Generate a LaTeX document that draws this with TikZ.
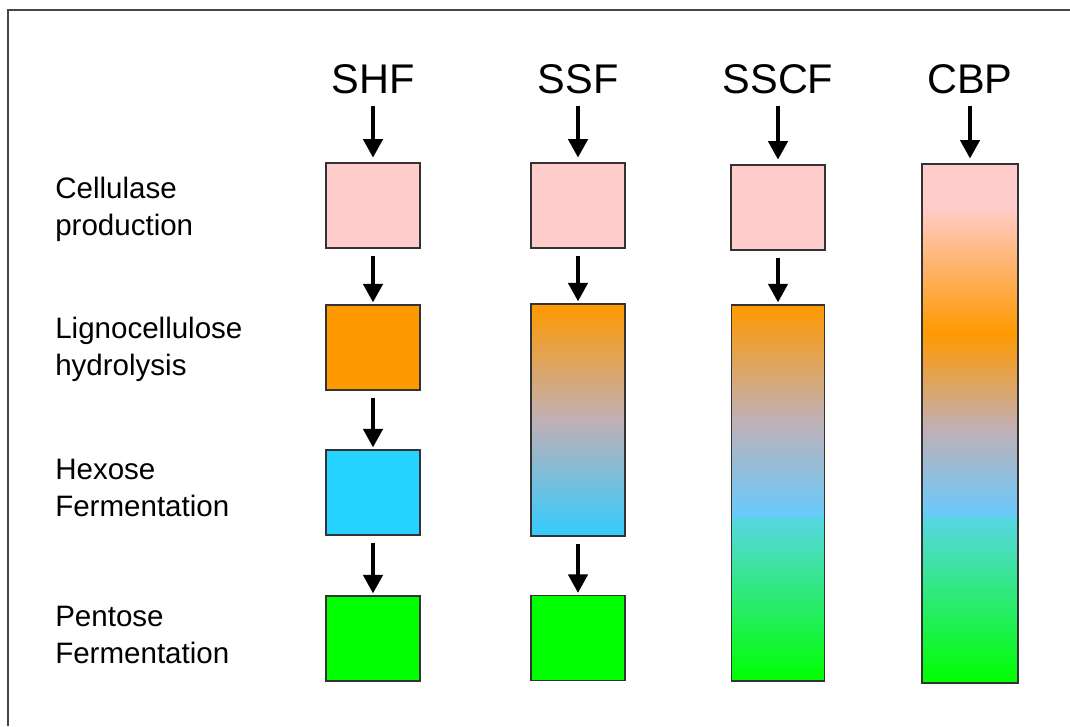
\documentclass[tikz,border=0pt]{standalone}
\usepackage{fontspec}
\setmainfont{Liberation Sans}
\usepackage{tikz}
\usetikzlibrary{arrows.meta, positioning}
\usepackage{xcolor}
\definecolor{cellpink}{RGB}{255,204,204}
\definecolor{hydorange}{RGB}{255,153,0}
\definecolor{hexblue}{RGB}{38,210,255}
\definecolor{pentgreen}{RGB}{0,255,0}
\definecolor{midgrey}{RGB}{192,176,182}
\definecolor{skyblue}{RGB}{51,204,255}
\definecolor{lightblue}{RGB}{105,202,252}
\definecolor{aquacyan}{RGB}{88,214,228}
\definecolor{framegrey}{RGB}{70,70,70}

% gradients: 25bp = bottom of the box, 75bp = top
\pgfdeclareverticalshading{ssfshade}{100bp}{color(0bp)=(skyblue); color(25bp)=(skyblue);
  color(50bp)=(midgrey); color(75bp)=(hydorange); color(100bp)=(hydorange)}
\pgfdeclareverticalshading{sscfshade}{100bp}{color(0bp)=(pentgreen); color(25bp)=(pentgreen);
  color(46.8bp)=(aquacyan); color(47.1bp)=(lightblue); color(59.7bp)=(midgrey);
  color(75bp)=(hydorange); color(100bp)=(hydorange)}
\pgfdeclareverticalshading{cbpshade}{100bp}{color(0bp)=(pentgreen); color(25bp)=(pentgreen);
  color(41bp)=(aquacyan); color(41.2bp)=(lightblue); color(49.4bp)=(midgrey);
  color(58.7bp)=(hydorange); color(71bp)=(cellpink); color(100bp)=(cellpink)}

\begin{document}
\begin{tikzpicture}[
    x=0.025cm, y=-0.025cm,
    stage/.style={rectangle, draw=black!80, line width=0.9pt, inner sep=0pt,
                  minimum width=2.35cm, minimum height=2.125cm},
    title/.style={anchor=base, inner sep=0pt, font=\fontsize{29.5}{32}\selectfont},
    lbl/.style={anchor=west, align=left, inner sep=0pt, font=\fontsize{21}{26.3}\selectfont},
    arr/.style={-{Triangle[length=0.46cm, width=0.48cm]}, line width=2.6pt},
    toparr/.style={arr, shorten <=0.3cm, shorten >=0.12cm},
    midarr/.style={arr, shorten <=0.175cm, shorten >=0.05cm},
]
    \useasboundingbox (0,0) rectangle (1070,726);
    \draw[framegrey, line width=1.4pt] (8,726) -- (8,10) -- (1075,10);

    % process names
    \node[title] (shf) at (373,93) {SHF};
    \node[title] (ssf) at (578,93) {SSF};
    \node[title] (sscf) at (778,93) {SSCF};
    \node[title] (cbp) at (970,93) {CBP};

    % steps
    \node[lbl] (cellulase) at (55,209) {Cellulase\\production};
    \node[lbl] (hydrolysis) at (55,349) {Lignocellulose\\hydrolysis};
    \node[lbl] (hexose) at (55,488) {Hexose\\Fermentation};
    \node[lbl] (pentose) at (55,635) {Pentose\\Fermentation};

    % SHF
    \node[stage, fill=cellpink] (shfA) at (373,205.5) {};
    \node[stage, fill=hydorange] (shfB) at (373,347.5) {};
    \node[stage, fill=hexblue] (shfC) at (373,492.5) {};
    \node[stage, fill=pentgreen] (shfD) at (373,638.5) {};

    % SSF
    \node[stage, fill=cellpink] (ssfA) at (578,205.5) {};
    \node[stage, shading=ssfshade, minimum height=5.8cm] (ssfB) at (578,420) {};
    \node[stage, fill=pentgreen] (ssfD) at (578,638) {};

    % SSCF
    \node[stage, fill=cellpink] (sscfA) at (778,207.5) {};
    \node[stage, shading=sscfshade, minimum width=2.325cm, minimum height=9.4cm] (sscfB) at (778,493) {};

    % CBP
    \node[stage, shading=cbpshade, minimum width=2.4cm, minimum height=12.975cm] (cbpA) at (970,423.5) {};

    \draw[toparr] (shf) -- (shfA);
    \draw[toparr] (ssf) -- (ssfA);
    \draw[toparr] (sscf) -- (sscfA);
    \draw[toparr] (cbp) -- (cbpA);

    \draw[midarr] (shfA) -- (shfB);
    \draw[midarr] (shfB) -- (shfC);
    \draw[midarr] (shfC) -- (shfD);
    \draw[midarr] (ssfA) -- (ssfB);
    \draw[midarr] (ssfB) -- (ssfD);
    \draw[midarr] (sscfA) -- (sscfB);
\end{tikzpicture}
\end{document}
